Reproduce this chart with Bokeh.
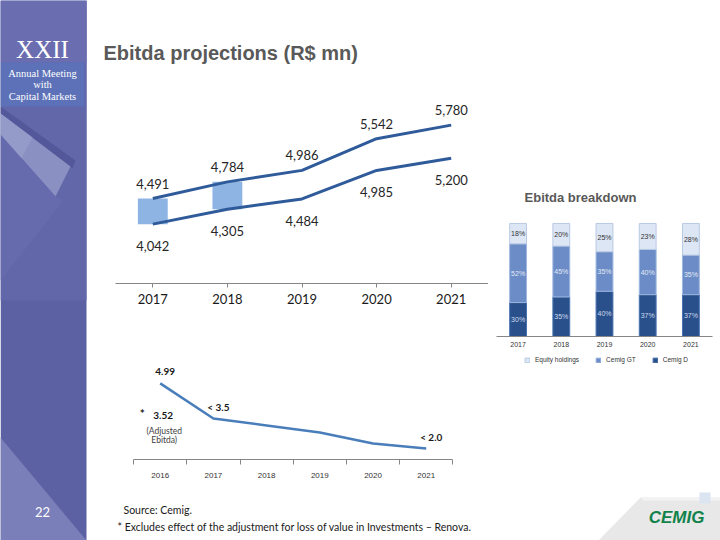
from bokeh.plotting import figure
from bokeh.layouts import row, column
from bokeh.models import (Spacer, Range1d, FactorRange, Legend, LegendItem, ColumnDataSource,
                          FixedTicker)
from bokeh.core.properties import value
from bokeh.embed import file_html
from bokeh.resources import INLINE

# ---------------- data ----------------
years = ["2017", "2018", "2019", "2020", "2021"]
ebitda_high = [4491, 4784, 4986, 5542, 5780]
ebitda_low = [4042, 4305, 4484, 4985, 5200]
range_bar_years = ["2017", "2018"]

lev_years = ["2016", "2017", "2018", "2019", "2020", "2021"]
leverage = [4.99, 3.38, 3.06, 2.74, 2.23, 2.0]
leverage_labels = ["4.99", "< 3.5", "", "", "", "< 2.0"]
adjusted_2016 = 3.52

equity = [18, 20, 25, 23, 28]
cemig_gt = [52, 45, 35, 40, 35]
cemig_d = [30, 35, 40, 37, 37]
series_names = ["Equity holdings", "Cemig GT", "Cemig D"]

title_text = "Ebitda projections (R$ mn)"
breakdown_title = "Ebitda breakdown"
source_note = "Source: Cemig."
star_note = "* Excludes effect of the adjustment for loss of value in Investments \u2013 Renova."
slide_no = "22"

LATO = value("Lato")
ARIAL = value("Liberation Sans")
SERIF = value("Liberation Serif")


def base_fig(w, h, **kw):
    p = figure(width=w, height=h, output_backend="svg", toolbar_location=None, **kw)
    p.outline_line_color = None
    p.min_border = 0
    p.xgrid.visible = False
    p.ygrid.visible = False
    p.background_fill_color = "white"
    p.border_fill_color = "white"
    return p


def deco_fig(w, h, x0, x1, y0, y1):
    return base_fig(w, h, x_range=Range1d(x0, x1), y_range=Range1d(y1, y0),
                    x_axis_location=None, y_axis_location=None)


# ---------------- sidebar ----------------
side = deco_fig(88, 540, 0, 88, 0, 540)
side.quad(left=[0], right=[86], top=[0], bottom=[540], fill_color="#5c61a3", line_color=None)
side.quad(left=[0], right=[86], top=[0], bottom=[300], fill_color="#6267aa", line_color=None)
side.quad(left=[0], right=[86], top=[0], bottom=[62], fill_color="#6a6eb1", line_color=None)
side.quad(left=[0], right=[84], top=[62], bottom=[106], fill_color="#5c71b7", line_color=None)
side.patch([0, 75, 72, 0], [106, 160, 168, 113], fill_color="#52589a", line_color=None)
side.patch([0, 70, 55, 0], [113, 166, 196, 134], fill_color="#8a90c2", line_color=None)
side.patch([0, 32, 20, 0], [113, 137, 160, 134], fill_color="#959bc9", line_color=None)
side.patch([0, 55, 62, 0], [134, 196, 201, 280], fill_color="#666bae", line_color=None)
side.patch([0, 86, 0], [437, 540, 540], fill_color="#7a7eb9", line_color=None)
side.text(x=[42], y=[49], text=["XXII"], text_font=SERIF, text_font_size="25px",
          text_color="white", text_align="center", text_baseline="middle")
side.text(x=[42, 42, 42], y=[73, 84, 96], text=["Annual Meeting", "with", "Capital Markets"],
          text_font=SERIF, text_font_size="10.5px", text_color="white",
          text_align="center", text_baseline="middle")
side.text(x=[42], y=[511], text=[slide_no], text_font=LATO, text_font_size="13px",
          text_color="white", text_align="center", text_baseline="middle")

# ---------------- title ----------------
tfig = deco_fig(632, 80, 88, 720, 0, 80)
tfig.text(x=[103], y=[52], text=[title_text], text_font=ARIAL, text_font_style="bold",
          text_font_size="20px", text_color="#595959", text_align="left", text_baseline="middle")

# ---------------- main chart ----------------
main = base_fig(400, 265, x_range=FactorRange(*years), y_range=Range1d(3000, 6300),
                y_axis_location=None)
main.min_border_left = 27
main.min_border_right = 0
main.min_border_top = 15
main.min_border_bottom = 62
idx = [years.index(y) for y in range_bar_years]
main.vbar(x=range_bar_years, bottom=[ebitda_low[i] for i in idx], top=[ebitda_high[i] for i in idx],
          width=0.4, fill_color="#8db4e2", line_color=None)
main.line(years, ebitda_high, line_color="#2f5b9a", line_width=3)
main.line(years, ebitda_low, line_color="#2f5b9a", line_width=3)
main.text(x=years, y=ebitda_high, text=[f"{v:,}" for v in ebitda_high], y_offset=-15,
          text_font=LATO, text_font_size="13px", text_color="#262626",
          text_align="center", text_baseline="middle")
main.text(x=years, y=ebitda_low, text=[f"{v:,}" for v in ebitda_low], y_offset=22,
          text_font=LATO, text_font_size="13px", text_color="#262626",
          text_align="center", text_baseline="middle")
ax = main.xaxis[0]
ax.axis_line_color = "#868686"
ax.major_tick_line_color = "#868686"
ax.major_tick_out = 4
ax.major_tick_in = 0
ax.major_label_standoff = 6
ax.major_label_text_font = "Lato"
ax.major_label_text_font_size = "13px"
ax.major_label_text_color = "#1a1a1a"

# ---------------- leverage chart (same side borders as main chart) ----------------
lev_x = list(range(len(lev_years)))
lev = base_fig(400, 135, x_range=Range1d(-0.84, 6.17), y_range=Range1d(1.5, 6.5),
               y_axis_location=None)
lev.min_border_left = 27
lev.min_border_right = 0
lev.min_border_top = 5
lev.min_border_bottom = 21
lev.line(lev_x, leverage, line_color="#4a7ebb", line_width=2.5)
lev.text(x=lev_x, y=leverage, text=leverage_labels, x_offset=5, y_offset=-12,
         text_font=LATO, text_font_style="bold", text_font_size="10px", text_color="#1a1a1a",
         text_align="center", text_baseline="middle")
lev.text(x=[lev_x[0]], y=[adjusted_2016], text=[f"{adjusted_2016:.2f}"], x_offset=3,
         text_font=LATO, text_font_style="bold", text_font_size="10px", text_color="#1a1a1a",
         text_align="center", text_baseline="middle")
lev.text(x=[lev_x[0]], y=[adjusted_2016], text=["*"], x_offset=-18, y_offset=-2,
         text_font=LATO, text_font_style="bold", text_font_size="12px", text_color="#1a1a1a",
         text_align="center", text_baseline="middle")
lev.text(x=[lev_x[0], lev_x[0]], y=[adjusted_2016, adjusted_2016],
         text=["(Adjusted", "Ebitda)"], x_offset=4, y_offset=[16, 25],
         text_font=LATO, text_font_size="8.5px", text_color="#404040",
         text_align="center", text_baseline="middle")
ax = lev.xaxis[0]
ax.ticker = FixedTicker(ticks=lev_x, minor_ticks=[i - 0.5 for i in range(len(lev_years) + 1)])
ax.major_label_overrides = {i: y for i, y in zip(lev_x, lev_years)}
ax.bounds = (-0.5, len(lev_years) - 0.5)
ax.axis_line_color = "#868686"
ax.major_tick_out = 0
ax.major_tick_in = 0
ax.minor_tick_out = 5
ax.minor_tick_in = 0
ax.minor_tick_line_color = "#868686"
ax.major_label_standoff = 8
ax.major_label_text_font = "Liberation Sans"
ax.major_label_text_font_size = "8px"
ax.major_label_text_color = "#333333"

# ---------------- breakdown chart ----------------
src = ColumnDataSource(dict(year=years, d=cemig_d, gt=cemig_gt, eq=equity))
bd_colors = ["#29508a", "#6b8cc6", "#dce6f5"]
bd_lines = ["#4a72b0", "#9db6e0", "#b9c9e2"]
bd = base_fig(232, 172, x_range=FactorRange(*years), y_range=Range1d(0, 138),
              y_axis_location=None)
bd.min_border_left = 8
bd.min_border_right = 8
bd.min_border_top = 0
bd.min_border_bottom = 16
rs = bd.vbar_stack(["d", "gt", "eq"], x="year", width=0.39, source=src,
                   fill_color=bd_colors, line_color=bd_lines, line_width=1)
mid_d = [v / 2 for v in cemig_d]
mid_gt = [d + g / 2 for d, g in zip(cemig_d, cemig_gt)]
mid_eq = [d + g + e / 2 for d, g, e in zip(cemig_d, cemig_gt, equity)]
bd.text(x=years, y=mid_d, text=[f"{v}%" for v in cemig_d], text_font=ARIAL, text_font_size="7px",
        text_color="#d0dcf0", text_align="center", text_baseline="middle")
bd.text(x=years, y=mid_gt, text=[f"{v}%" for v in cemig_gt], text_font=ARIAL, text_font_size="7px",
        text_color="#e4ebf7", text_align="center", text_baseline="middle")
bd.text(x=years, y=mid_eq, text=[f"{v}%" for v in equity], text_font=ARIAL, text_font_size="7px",
        text_color="#333333", text_align="center", text_baseline="middle")
bd.text(x=[years[2]], y=[123], text=[breakdown_title], x_offset=-24,
        text_font=ARIAL, text_font_style="bold", text_font_size="13px", text_color="#595959",
        text_align="center", text_baseline="middle")
ax = bd.xaxis[0]
ax.axis_line_color = "#868686"
ax.major_tick_out = 0
ax.major_tick_in = 0
ax.major_label_standoff = 5
ax.major_label_text_font = "Liberation Sans"
ax.major_label_text_font_size = "7px"
ax.major_label_text_color = "#333333"

# legend strip under the breakdown chart (zero-height swatch renderers feed the legend)
lg = base_fig(232, 14, x_range=Range1d(0, 1), y_range=Range1d(0, 1),
              x_axis_location=None, y_axis_location=None)
lg.min_border_left = 8
lg.min_border_right = 8
swatches = [lg.vbar(x=[0.5], bottom=[0], top=[0], width=0, fill_color=bd_colors[k],
                    line_color=bd_lines[k]) for k in range(3)]
legend = Legend(items=[LegendItem(label=series_names[0], renderers=[swatches[2]]),
                       LegendItem(label=series_names[1], renderers=[swatches[1]]),
                       LegendItem(label=series_names[2], renderers=[swatches[0]])],
                orientation="horizontal", label_text_font="Liberation Sans",
                label_text_font_size="6.5px", label_text_color="#333333",
                glyph_width=6, glyph_height=6, label_standoff=5, spacing=16,
                padding=0, margin=0, border_line_color=None, background_fill_alpha=0,
                label_height=9, location=(28, 2))
lg.add_layout(legend, "center")

# ---------------- footer ----------------
foot = deco_fig(632, 60, 88, 720, 480, 540)
foot.patch([598, 640, 720, 720], [540, 497, 497, 540], fill_color="#e8e8e8", line_color=None)
foot.patch([640, 720, 720, 643], [497, 497, 500, 500], fill_color="#f3f3f3", line_color=None)
foot.quad(left=[699], right=[710], top=[492], bottom=[503], fill_color="#dbe5f1", line_color=None)
foot.text(x=[676], y=[517], text=["CEMIG"], text_font=ARIAL, text_font_style="bold italic",
          text_font_size="17px", text_color="#11824a", text_align="center", text_baseline="middle")
foot.text(x=[123], y=[509], text=[source_note], text_font=LATO, text_font_size="10.5px",
          text_color="#1a1a1a", text_align="left", text_baseline="middle")
foot.text(x=[117], y=[526], text=[star_note], text_font=LATO, text_font_size="10.5px",
          text_color="#1a1a1a", text_align="left", text_baseline="middle")

layout = row(side, column(tfig,
                          row(column(main, lev),
                              column(Spacer(width=232, height=100), bd, lg,
                                     Spacer(width=232, height=114))),
                          foot))

open("out.html", "w").write(file_html(layout, INLINE))
